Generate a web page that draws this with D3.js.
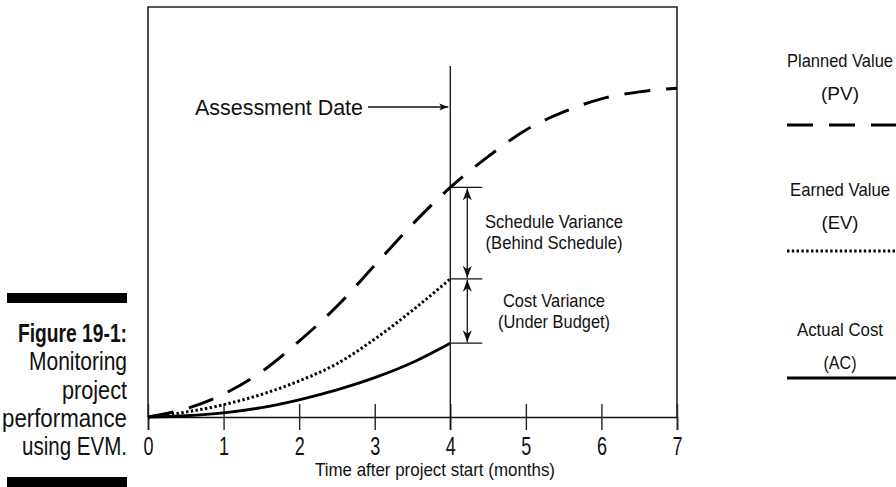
<!DOCTYPE html>
<html lang="en">
<head>
<meta charset="utf-8">
<script src="https://d3js.org/d3.v7.min.js"></script>
<style>
  body { margin: 0; background: #fff; }
  svg text { font-family: "Liberation Sans", Arial, sans-serif; fill: #111; }
</style>
</head>
<body>
<div id="chart"></div>
<script>
// months after project start
var months   = [0, 0.5, 1, 1.5, 2, 2.5, 3, 3.5, 4, 4.5, 5, 5.5, 6, 6.5, 7];
// planned value (PV), % of budget
var pvValues = [0, 2, 5.6, 11, 18.5, 27, 37, 47, 56, 63.5, 70, 74.4, 77.6, 79.3, 80.2];
// earned value (EV) and actual cost (AC), known only up to the assessment date
var evMonths = [0, 0.5, 1, 1.5, 2, 2.5, 3, 3.5, 4];
var evValues = [0, 1.2, 3, 5.5, 8.8, 13, 19, 26, 33.7];
var acValues = [0, 0.3, 1, 2.3, 4.2, 6.6, 9.6, 13.3, 18];
var tickLabels = [0, 1, 2, 3, 4, 5, 6, 7];
var assessmentMonth = 4;
var captionLines = ["Figure 19-1:", "Monitoring", "project", "performance", "using EVM."];
var legendItems = [
  {name: "Planned Value", abbr: "(PV)", key: "pv"},
  {name: "Earned Value", abbr: "(EV)", key: "ev"},
  {name: "Actual Cost", abbr: "(AC)", key: "ac"}
];

var width = 896, height = 487;
var styles = {
  pv: {dash: "26,16", w: 3},
  ev: {dash: "2.4,2.4", w: 3},
  ac: {dash: null, w: 2.8}
};

var svg = d3.select("#chart").append("svg")
    .attr("width", width)
    .attr("height", height);

// the original uses a condensed face; squeeze a regular one to the same widths
function label(px, py, str, size, anchor, w, bold) {
  var t = svg.append("text")
      .attr("x", px).attr("y", py)
      .attr("text-anchor", anchor)
      .attr("font-size", size)
      .text(str);
  if (bold) t.attr("font-weight", "bold");
  if (w) t.attr("textLength", w).attr("lengthAdjust", "spacingAndGlyphs");
  return t;
}

var x = d3.scaleLinear().domain([0, 7]).range([148, 677]);
var y = d3.scaleLinear().domain([0, 100]).range([417, 7]);

// frame
svg.append("path")
    .attr("d", "M" + x(0) + "," + y(0) + "V" + y(100) + "H" + x(7) + "V" + y(0))
    .attr("fill", "none")
    .attr("stroke", "#222")
    .attr("stroke-width", 1.6);

// x axis
var axis = svg.append("g")
    .attr("transform", "translate(0," + y(0) + ")")
    .call(d3.axisBottom(x).tickValues(tickLabels).tickFormat(d3.format("d")).tickSize(13));
axis.select(".domain").attr("stroke", "#111").attr("stroke-width", 1.6);
axis.selectAll(".tick line").attr("y1", -13).attr("stroke", "#222").attr("stroke-width", 1.4);
axis.selectAll(".tick text")
    .attr("y", 38).attr("dy", 0)
    .attr("font-size", 25)
    .attr("font-family", "'Liberation Sans', Arial, sans-serif")
    .attr("transform", "scale(0.72,1)")
    .attr("fill", "#111");

label(435, 476, "Time after project start (months)", 19, "middle", 240);

// curves
var line = d3.line().curve(d3.curveMonotoneX);

function drawSeries(xs, ys, key) {
  var p = svg.append("path")
      .attr("d", line(xs.map(function(m, i) { return [x(m), y(ys[i])]; })))
      .attr("fill", "none")
      .attr("stroke", "#000")
      .attr("stroke-width", styles[key].w);
  if (styles[key].dash) p.attr("stroke-dasharray", styles[key].dash);
}
drawSeries(months, pvValues, "pv");
drawSeries(evMonths, evValues, "ev");
drawSeries(evMonths, acValues, "ac");

// arrow markers
var defs = svg.append("defs");
defs.append("marker")
    .attr("id", "head")
    .attr("viewBox", "0 -5 12 10")
    .attr("refX", 12).attr("refY", 0)
    .attr("markerWidth", 12).attr("markerHeight", 10)
    .attr("markerUnits", "userSpaceOnUse")
    .attr("orient", "auto-start-reverse")
    .append("path")
    .attr("d", "M0,-4.5L12,0L0,4.5L3.5,0Z")
    .attr("fill", "#111");
defs.append("marker")
    .attr("id", "smallhead")
    .attr("viewBox", "0 -4 9 8")
    .attr("refX", 9).attr("refY", 0)
    .attr("markerWidth", 9).attr("markerHeight", 8)
    .attr("markerUnits", "userSpaceOnUse")
    .attr("orient", "auto")
    .append("path")
    .attr("d", "M0,-3.5L9,0L0,3.5L2,0Z")
    .attr("fill", "#111");

// assessment date line
var ax = x(assessmentMonth);
svg.append("line")
    .attr("x1", ax).attr("x2", ax)
    .attr("y1", 66).attr("y2", y(0) + 13)
    .attr("stroke", "#111").attr("stroke-width", 1.3);

label(363, 115, "Assessment Date", 22, "end", 168);
svg.append("line")
    .attr("x1", 368).attr("x2", ax - 2)
    .attr("y1", 107).attr("y2", 107)
    .attr("stroke", "#111").attr("stroke-width", 1.3)
    .attr("marker-end", "url(#smallhead)");

// variance brackets
var i4 = evMonths.indexOf(assessmentMonth);
var yPV = y(pvValues[months.indexOf(assessmentMonth)]);
var yEV = y(evValues[i4]);
var yAC = y(acValues[i4]);
[yPV, yEV, yAC].forEach(function(v) {
  svg.append("line")
      .attr("x1", ax).attr("x2", ax + 32)
      .attr("y1", v).attr("y2", v)
      .attr("stroke", "#111").attr("stroke-width", 1.3);
});
[[yPV, yEV], [yEV, yAC]].forEach(function(seg) {
  svg.append("line")
      .attr("x1", ax + 17).attr("x2", ax + 17)
      .attr("y1", seg[0] + 1).attr("y2", seg[1] - 1)
      .attr("stroke", "#111").attr("stroke-width", 1.3)
      .attr("marker-start", "url(#head)")
      .attr("marker-end", "url(#head)");
});

var noteX = 554;
[["Schedule Variance", 228, 138], ["(Behind Schedule)", 249, 137],
 ["Cost Variance", 307, 102], ["(Under Budget)", 328, 112]]
  .forEach(function(t) { label(noteX, t[1], t[0], 19, "middle", t[2]); });

// legend
var legendX = 840;
var legendTop = [67, 196, 336];
var legendLineY = [125, 251, 378];
var nameW = [106, 100, 86], abbrW = [38, 37, 33];
legendItems.forEach(function(d, i) {
  var t = legendTop[i];
  label(legendX, t, d.name, 18.5, "middle", nameW[i]);
  label(legendX, t + 33, d.abbr, 18.5, "middle", abbrW[i]);
  var l = svg.append("line")
      .attr("x1", 787).attr("x2", width)
      .attr("y1", legendLineY[i]).attr("y2", legendLineY[i])
      .attr("stroke", "#000")
      .attr("stroke-width", styles[d.key].w);
  if (styles[d.key].dash) l.attr("stroke-dasharray", styles[d.key].dash);
});

// caption block
svg.append("rect").attr("x", 7).attr("y", 293).attr("width", 120).attr("height", 10).attr("fill", "#000");
svg.append("rect").attr("x", 7).attr("y", 477).attr("width", 120).attr("height", 10).attr("fill", "#000");
var captionW = [109, 98, 65, 125, 105];
captionLines.forEach(function(s, i) {
  label(127, 342 + i * 28.25, s, 25, "end", captionW[i], i === 0);
});
</script>
</body>
</html>
